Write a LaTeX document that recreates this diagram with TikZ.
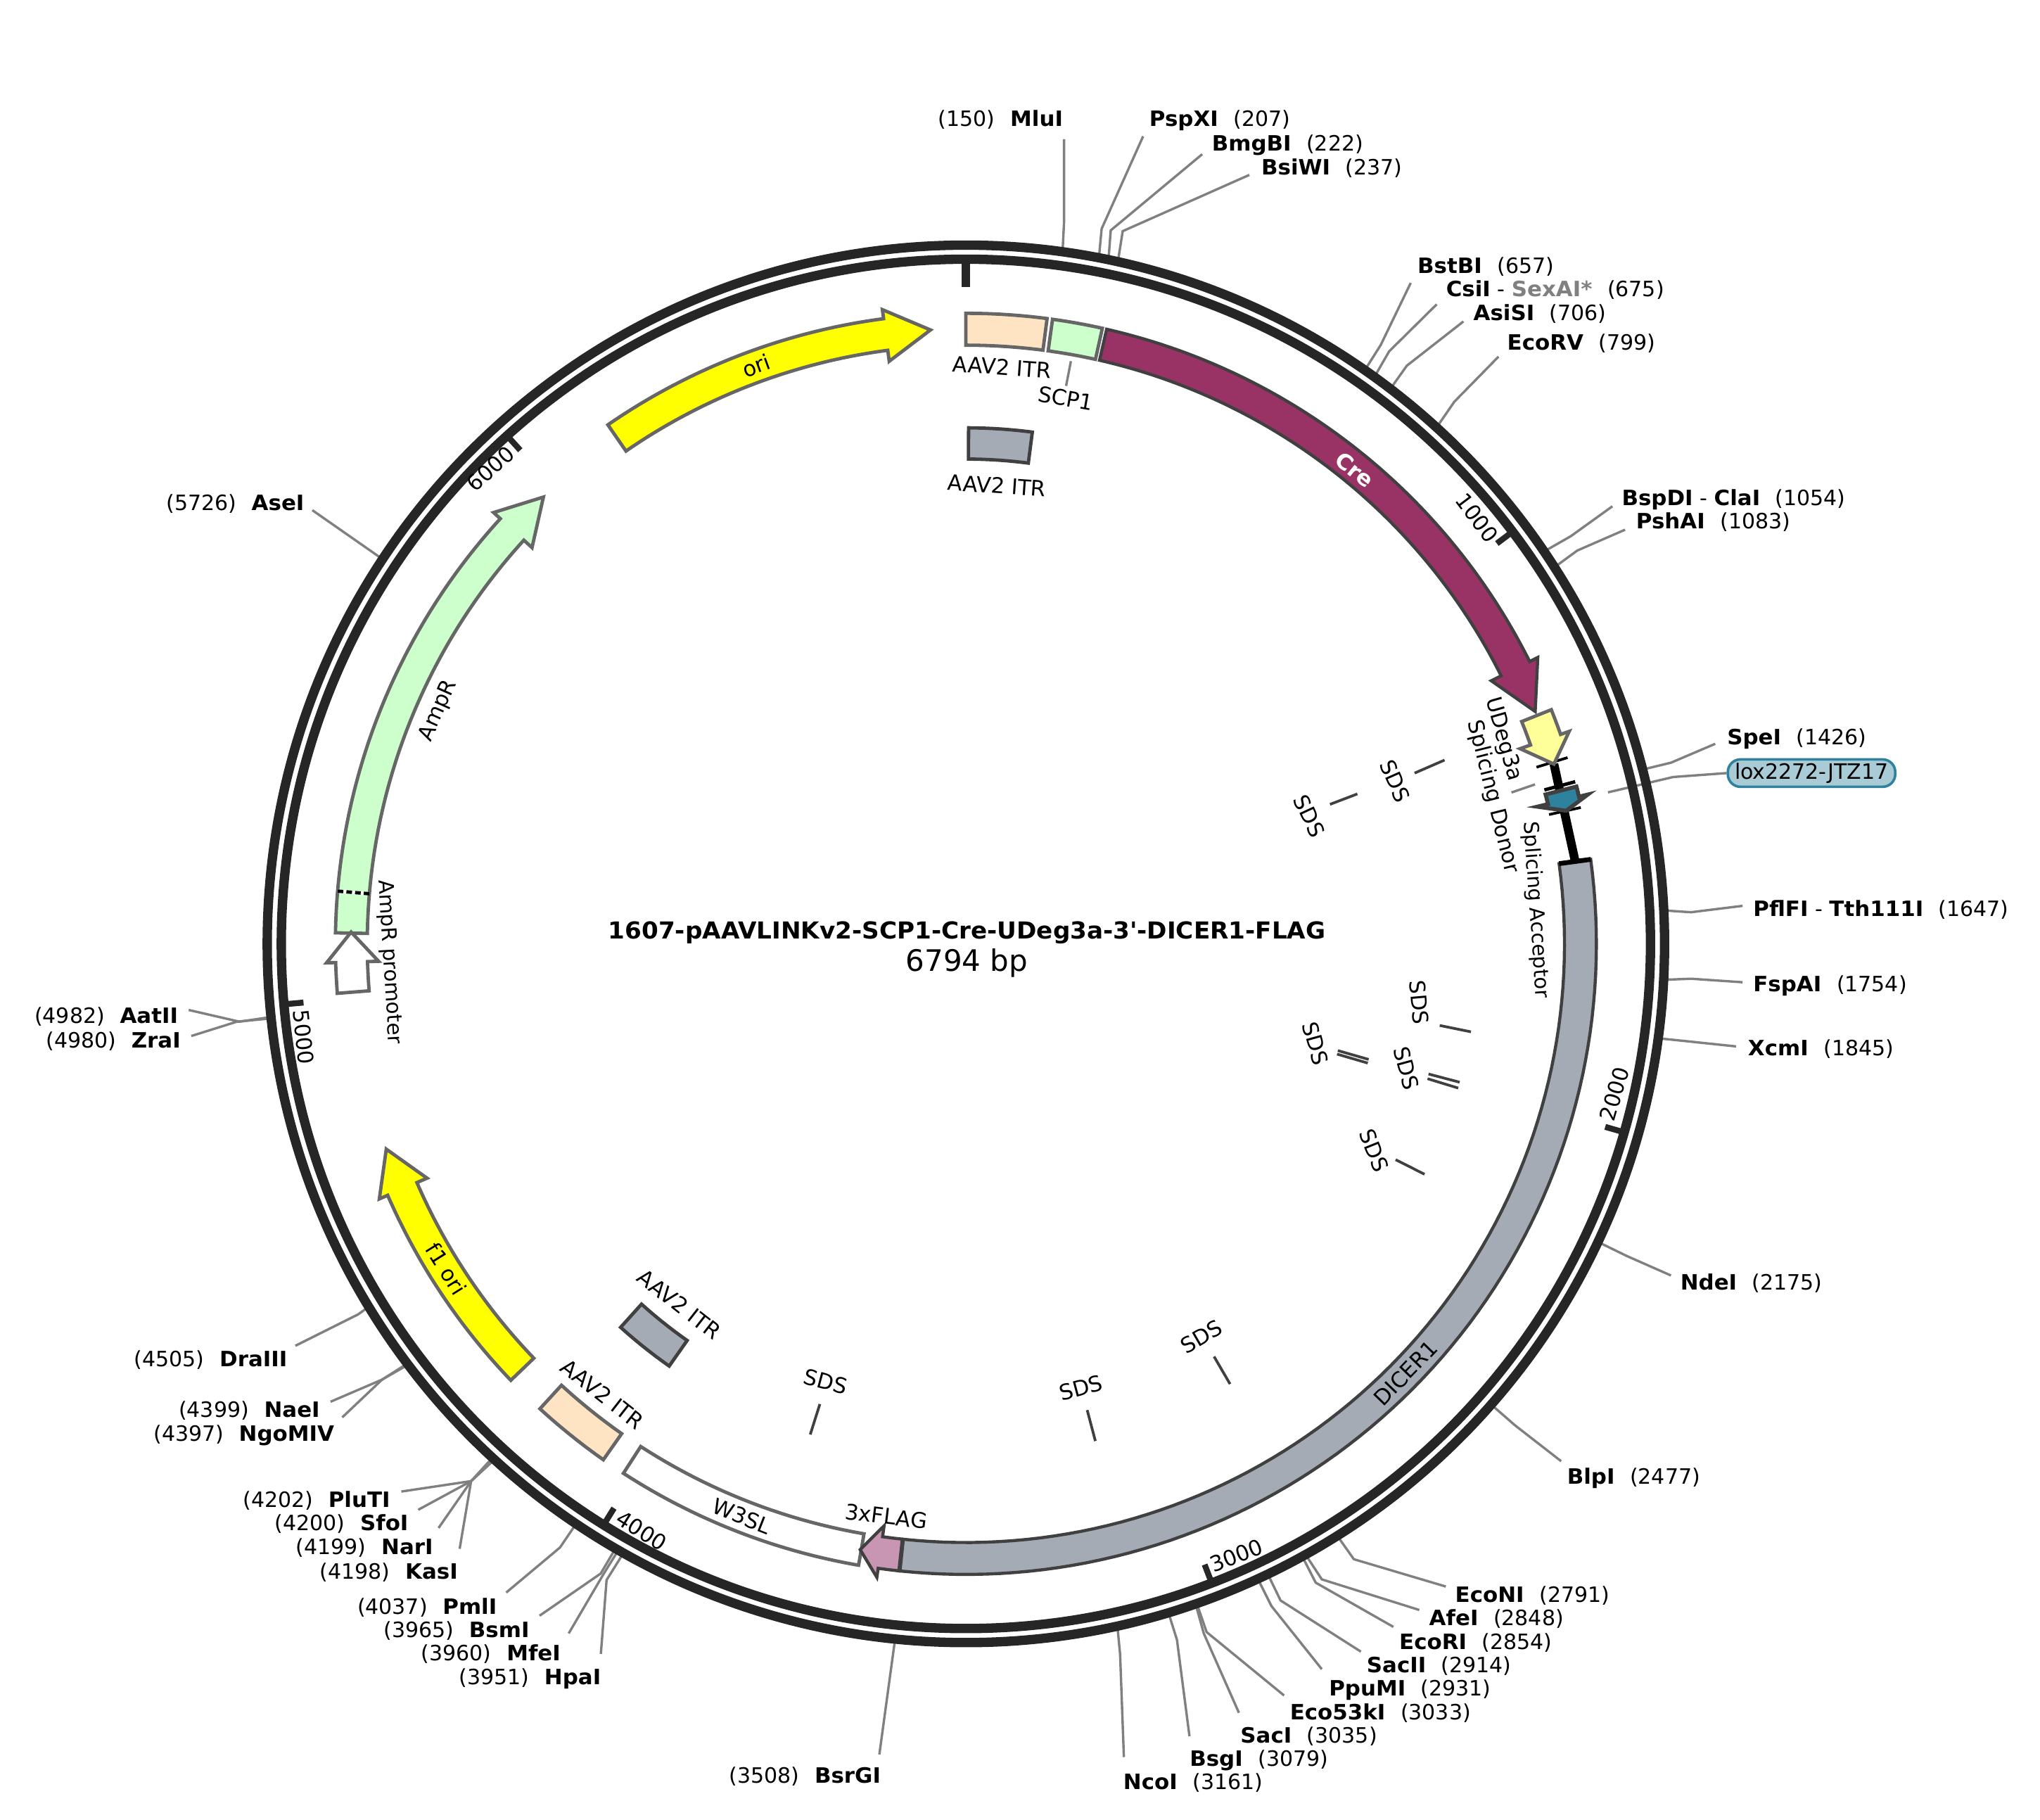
\documentclass[tikz,border=0pt]{standalone}
\usepackage{fontspec}
\setmainfont{DejaVu Sans}[BoldFeatures={FakeStretch=1.03}]
\definecolor{ringc}{HTML}{262626}
\definecolor{leadc}{HTML}{808080}
\definecolor{edgec}{HTML}{666666}
\definecolor{darkedge}{HTML}{404040}
\definecolor{crec}{HTML}{993366}
\definecolor{peach}{HTML}{FFE4C4}
\definecolor{mint}{HTML}{CCFFCC}
\definecolor{yel}{HTML}{FFFF00}
\definecolor{slate}{HTML}{A5ABB4}
\definecolor{pinkc}{HTML}{C895B2}
\definecolor{paley}{HTML}{FFFF99}
\definecolor{tealc}{HTML}{2F829E}
\definecolor{loxf}{HTML}{A9CBD6}
\definecolor{sexc}{HTML}{808080}
\tikzset{
 lab/.style={inner sep=0pt,yshift=-1.4pt,text height=11.5pt,text depth=3pt,font=\fontsize{15}{18}\selectfont},
 tx/.style={inner sep=0pt,font=\fontsize{15.3}{18}\selectfont},
 leadline/.style={draw=leadc,line width=1.7pt},
 sdsline/.style={draw=darkedge,line width=1.9pt},
 feat/.style={draw=edgec,line width=2.4pt,line join=miter},
 dfeat/.style={draw=darkedge,line width=2.2pt,line join=miter},
 tickm/.style={draw=ringc,line width=4.2pt},
 blk/.style={draw=black,line width=1.9pt},
}
\newcommand\gapx{\hspace{0.72em}}
% clockwise band: t1 t2 rin rout style
\newcommand\fband[5]{\draw[shift={(742.2,725.2)},#5] plot[domain=#1:#2,samples=80] ({\x-90}:#4) -- plot[domain=#2:#1,samples=80] ({\x-90}:#3) -- cycle;}
% arrow from t1 to head base t2, tip t3
\newcommand\farrow[4]{\draw[shift={(742.2,725.2)},#4] plot[domain=#1:#2,samples=80] ({\x-90}:484.5) -- ({#2-90}:491.5) -- ({#3-90}:472.5) -- ({#2-90}:451.5) -- plot[domain=#2:#1,samples=80] ({\x-90}:460) -- cycle;}
\newcommand\siteline[4]{\coordinate (e#1) at (#2);\coordinate (k#1) at (#3);\path[shift={(742.2,725.2)}] ({#4/6794*360-90}:538) coordinate (r#1);\draw[leadline] (e#1) -- (k#1) -- (r#1);}
% id, text pos, name, bp, end, knee
\newcommand\siteR[6]{\node[lab,anchor=west] (l#1) at (#2) {\textbf{#3}\gapx(#4)};\siteline{#1}{#5}{#6}{#4}}
\newcommand\siteL[6]{\node[lab,anchor=east] (l#1) at (#2) {(#4)\gapx\textbf{#3}};\siteline{#1}{#5}{#6}{#4}}
\begin{document}
\begin{tikzpicture}[x=0.925pt,y=-0.925pt]
\useasboundingbox (0,0) rectangle (1567.57,1398.38);
% --- restriction sites
\siteL{mlu}{817,91}{MluI}{150}{817.6,107}{817.6,171}
\siteR{psp}{883,91}{PspXI}{207}{878.4,104.7}{846.5,175.8}
\siteR{bmg}{931,110}{BmgBI}{222}{923.8,118.5}{853.5,177}
\siteR{bsi}{969,128}{BsiWI}{237}{960,134.4}{862.7,177.6}
\siteR{bst}{1089,204}{BstBI}{657}{1084,217.4}{1061,265}
\node[lab,anchor=west] (lcsi) at (1111,222) {\textbf{CsiI} - \textcolor{sexc}{\textbf{SexAI*}}\gapx(675)};
\siteline{csi}{1104,233.8}{1067.4,270}{675}
\siteR{asi}{1132,240}{AsiSI}{706}{1124.5,247}{1081,281}
\siteR{eco}{1158,263}{EcoRV}{799}{1151.5,274}{1117.5,308.7}
\node[lab,anchor=west] (lbsp) at (1246,382) {\textbf{BspDI} - \textbf{ClaI}\gapx(1054)};
\siteline{bsp}{1239,389}{1207,412}{1054}
\siteR{psh}{1257,400}{PshAI}{1083}{1248.7,407}{1212,423}
\siteR{spe}{1327,566}{SpeI}{1426}{1318,571.5}{1284,586}
\node[lab,anchor=west] (lpfl) at (1347,698) {\textbf{PflFI} - \textbf{Tth111I}\gapx(1647)};
\siteline{pfl}{1339,696}{1299.4,700.9}{1647}
\siteR{fsp}{1347,756}{FspAI}{1754}{1339,754.7}{1299.4,752}
\siteR{xcm}{1343,805}{XcmI}{1845}{1334,804}{1296,800}
\siteR{nde}{1291,985}{NdeI}{2175}{1284,980}{1250,965}
\siteR{blp}{1204,1134}{BlpI}{2477}{1199.6,1122.7}{1164,1095}
\siteR{econi}{1118,1225}{EcoNI}{2791}{1111,1219}{1040.3,1198}
\siteR{afe}{1098,1243}{AfeI}{2848}{1090.6,1237}{1015.7,1213.5}
\siteR{ecori}{1075,1261}{EcoRI}{2854}{1070.7,1250}{1011,1216}
\siteR{sac2}{1050,1279}{SacII}{2914}{1045.7,1269}{984,1229.7}
\siteR{ppu}{1021,1297}{PpuMI}{2931}{1015.7,1282.5}{977,1234}
\siteR{e53}{991,1315}{Eco53kI}{3033}{986.7,1302.7}{927.2,1254}
\siteR{sac1}{953,1333}{SacI}{3035}{952,1316}{925,1255}
\siteR{bsg}{914,1351}{BsgI}{3079}{914,1334}{904.4,1260}
\siteR{nco}{863,1369}{NcoI}{3161}{863.6,1350}{860.7,1271}
\siteL{bsr}{677,1364}{BsrGI}{3508}{675.7,1348}{687.3,1263}
\siteL{hpa}{462,1288}{HpaI}{3951}{461.7,1270.8}{466.1,1214}
\siteL{mfe}{431,1270}{MfeI}{3960}{437,1255}{464,1209}
\siteL{bsm}{407,1252}{BsmI}{3965}{414.6,1241.4}{461.6,1209}
\siteL{pml}{382,1234}{PmlI}{4037}{389,1223.6}{430.3,1189}
\siteL{kas}{352,1207}{KasI}{4198}{353.2,1190}{362,1138}
\siteL{nar}{333,1188}{NarI}{4199}{337,1174}{362,1138}
\siteL{sfo}{314,1170}{SfoI}{4200}{321.4,1160}{362,1138}
\siteL{plu}{300,1152}{PluTI}{4202}{308.4,1146}{362,1138}
\siteL{ngo}{257,1101}{NgoMIV}{4397}{263,1089}{293.6,1060}
\siteL{nae}{246,1083}{NaeI}{4399}{254,1077}{293.6,1060}
\siteL{dra}{221,1044}{DraIII}{4505}{227,1034}{275,1010}
\siteL{zra}{139,799}{ZraI}{4980}{147,796}{182,785}
\siteL{aat}{137,780}{AatII}{4982}{145,776}{184,785}
\siteL{ase}{234,386}{AseI}{5726}{240,392}{273,415}
% lox label and leader
\node[draw=tealc,fill=loxf,line width=1.8pt,rounded corners=9pt,minimum width=119pt,minimum height=19.5pt,inner sep=0pt,font=\fontsize{15}{18}\selectfont] (lox) at (1392,594) {lox2272-JTZ17};
\coordinate (loxa) at (1235.6,608.8);
\coordinate (loxk) at (1285.7,597);
\draw[leadline] (loxa) -- (loxk) -- (lox.west);
% --- backbone ring
\draw[ringc,line width=6.66pt] (742.2,725.2) circle[radius=496.6pt];
\draw[ringc,line width=6.66pt] (742.2,725.2) circle[radius=486.6pt];
% ticks
\draw[tickm,line width=6.2pt,shift={(742.2,725.2)}] (-90:525) -- (-90:504.5);
\foreach \k in {1000,2000,3000,4000,5000,6000}{
 \draw[tickm,shift={(742.2,725.2)}] ({\k/6794*360-90}:525) -- ({\k/6794*360-90}:511);}
\node[tx,rotate=-53] (t1000) at (1135,398) {1000};
\node[tx,rotate=74] (t2000) at (1240.5,840.5) {2000};
\node[tx,rotate=21] (t3000) at (950,1195) {3000};
\node[tx,rotate=-32] (t4000) at (493,1176) {4000};
\node[tx,rotate=-84] (t5000) at (233.5,797) {5000};
\node[tx,rotate=42] (t6000) at (377,360) {6000};
% --- features
\farrow{12.9}{63.4}{67.8}{dfeat,fill=crec}
\fband{0}{7.4}{460}{484.5}{feat,fill=peach}
\fband{7.9}{12.5}{460}{484.5}{feat,fill=mint}
\fband{0.3}{7.4}{372.5}{396.5}{feat,fill=slate,draw=darkedge}
\farrow{-34.6}{-7.5}{-3.3}{feat,fill=yel}
\farrow{-89}{-47.6}{-43.4}{feat,fill=mint}
\farrow{-133.8}{-113.5}{-109.5}{feat,fill=yel}
\farrow{-94.5}{-91.7}{-88.9}{feat,fill=white}
\fband{215.1}{222.5}{460}{484.5}{feat,fill=peach}
\fband{212.9}{189.8}{460}{484.5}{feat,fill=white}
\fband{215.1}{222}{372.5}{396.5}{feat,fill=slate,draw=darkedge}
\farrow{186.1}{188}{189.9}{dfeat,fill=pinkc}
\fband{82.3}{186}{460}{484.5}{dfeat,fill=slate}
\begin{scope}[shift={(742.2,725.2)}]
 \draw[white,line width=2.4pt] (-85.2-90:460) -- (-85.2-90:484.5);
 \draw[black,line width=2.4pt,dash pattern=on 4pt off 2.2pt] (-85.2-90:460) -- (-85.2-90:484.5);
 % splicing elements
 \draw[black,line width=6.2pt] (73-90:472.5) -- (82.3-90:472.5);
 \draw[blk] (72.8-90:459) -- (72.8-90:484);
 \draw[blk] (77.5-90:459) -- (77.5-90:484);
 \draw[blk,line width=3.4pt] (82.3-90:460) -- (82.3-90:484.5);
\end{scope}
\farrow{68.2}{70.6}{73}{feat,fill=paley}
\draw[black,line width=2.4pt,shift={(742.2,725.2)}] (75.1-90:460) -- (75.1-90:484.5);
\farrow{75.55}{76.5}{77.5}{dfeat,line width=2.8pt,fill=tealc}
% feature labels
\node[tx,rotate=20] (lori) at (581,281) {ori};
\node[tx,rotate=-39.3,text=white] (lcre) at (1041,361) {\textbf{Cre}};
\node[tx,rotate=66] (lamp) at (337,546) {AmpR};
\node[tx,rotate=-86.5,font=\fontsize{14.7}{18}\selectfont] (lampp) at (299,739) {AmpR promoter};
\node[tx,rotate=-58] (lf1) at (343,975) {f1 ori};
\node[tx,rotate=-4] (litr1) at (770,282) {AAV2 ITR};
\node[tx,rotate=-10] (lscp) at (819,306) {SCP1};
\node[tx,rotate=-4] (litr2) at (766,373) {AAV2 ITR};
\node[tx,rotate=-38] (litr3) at (522,1002) {AAV2 ITR};
\node[tx,rotate=-38] (litr4) at (463,1071) {AAV2 ITR};
\node[tx,rotate=-21.4] (lw3) at (570,1165) {W3SL};
\node[tx,rotate=-7] (lflag) at (681,1165) {3xFLAG};
\node[tx,rotate=46] (ldic) at (1080,1055) {DICER1};
\node[tx,rotate=-74] (ludg) at (1155,568) {UDeg3a};
\node[tx,rotate=-76] (lsd) at (1147,612) {Splicing Donor};
\node[tx,rotate=-86,font=\fontsize{14.5}{18}\selectfont] (lsa) at (1180,699) {Splicing Acceptor};
% short leaders
\coordinate (scpa) at (822.9,277.5); \coordinate (scpb) at (819.2,296.5);
\draw[leadline] (scpa) -- (scpb);
\coordinate (sda) at (1161.4,608.9); \coordinate (sdb) at (1179.5,602.7);
\draw[leadline] (sda) -- (sdb);
% SDS marks
\node[tx,rotate=-66] (s1) at (1072,600) {SDS};
\coordinate (s1a) at (1087,594); \coordinate (s1b) at (1110,584); \draw[sdsline] (s1a) -- (s1b);
\node[tx,rotate=-65] (s2) at (1006,627) {SDS};
\coordinate (s2a) at (1022,618); \coordinate (s2b) at (1043,610); \draw[sdsline] (s2a) -- (s2b);
\node[tx,rotate=-85] (s3) at (1090.4,770.3) {SDS};
\coordinate (s3a) at (1106.3,787.9); \coordinate (s3b) at (1130.3,792.8); \draw[sdsline] (s3a) -- (s3b);
\node[tx,rotate=-74.5] (s4) at (1010.8,801.8) {SDS};
\coordinate (s4a) at (1028,807.2); \coordinate (s4b) at (1051.7,814); \draw[sdsline] (s4a) -- (s4b);
\coordinate (s4c) at (1027.4,809.9); \coordinate (s4d) at (1051,816.8); \draw[sdsline] (s4c) -- (s4d);
\node[tx,rotate=-75] (s5) at (1080.7,820.7) {SDS};
\coordinate (s5a) at (1097.7,825.2); \coordinate (s5b) at (1121.6,831.5); \draw[sdsline] (s5a) -- (s5b);
\coordinate (s5c) at (1096.9,828.8); \coordinate (s5d) at (1120.5,836); \draw[sdsline] (s5c) -- (s5d);
\node[tx,rotate=-68] (s6) at (1055.9,883.8) {SDS};
\coordinate (s6a) at (1072.4,891); \coordinate (s6b) at (1094.6,902.2); \draw[sdsline] (s6a) -- (s6b);
\node[tx,rotate=30] (s7) at (923.2,1027) {SDS};
\coordinate (s7a) at (932.9,1042.3); \coordinate (s7b) at (945.2,1063.4); \draw[sdsline] (s7a) -- (s7b);
\node[tx,rotate=15] (s8) at (830.6,1066.3) {SDS};
\coordinate (s8a) at (835.4,1083.4); \coordinate (s8b) at (841.7,1107.2); \draw[sdsline] (s8a) -- (s8b);
\node[tx,rotate=-15] (s9) at (634.4,1061.3) {SDS};
\coordinate (s9a) at (630,1078.8); \coordinate (s9b) at (622.6,1102.2); \draw[sdsline] (s9a) -- (s9b);
% centre
\node[inner sep=0pt,font=\bfseries\fontsize{16.6}{18}\selectfont] (title) at (743,716.5) {1607-pAAVLINKv2-SCP1-Cre-UDeg3a-3\textquotesingle-DICER1-FLAG};
\node[inner sep=0pt,font=\fontsize{21}{24}\selectfont] (bp) at (743,740) {6794 bp};
\end{tikzpicture}
\end{document}
